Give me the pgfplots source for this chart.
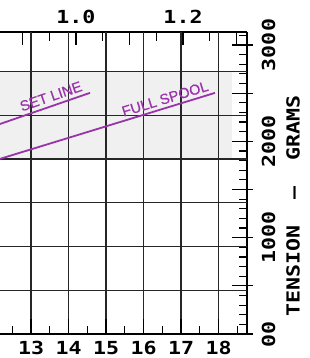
\documentclass[border=0pt]{standalone}
\usepackage{fontspec}
\setmainfont{Liberation Sans}
\newfontfamily\letterfont[FakeStretch=1.2]{DejaVu Sans Mono}
\newfontfamily\markfont[FakeBold=0.6]{Liberation Sans}
\usepackage{pgfplots}
\pgfplotsset{compat=1.18}
\definecolor{pur}{RGB}{153,51,170}
\definecolor{shadegray}{RGB}{240,240,240}
\newcommand\lf{\letterfont\bfseries\fontsize{18}{18}\selectfont}
\begin{document}
\begin{tikzpicture}
% top scale, shading
\begin{axis}[name=B, scale only axis, width=247pt, height=302pt,
  xmin=0.858, xmax=1.3196, ymin=0, ymax=3135,
  axis x line*=top, axis y line=none,
  xtick={0.9,1.0,1.1,1.2,1.3}, xticklabels={,1.0,,1.2,},
  minor xtick={0.95,1.05,1.15,1.25},
  tick align=inside, major tick length=13pt, minor tick length=9pt,
  every tick/.style={black, line width=1.2pt},
  axis line style={line width=1.6pt, black},
  xticklabel style={font=\lf, inner sep=0pt, anchor=south},
  xticklabel shift=8.5pt]
\addplot[fill=shadegray, draw=none] coordinates {(0.858,1816) (1.2916,1816) (1.2916,2724) (0.858,2724)} -- cycle;
\end{axis}
% outward parts of the long tension ticks
\begin{axis}[scale only axis, width=247pt, height=302pt,
  xmin=12.173, xmax=18.76, ymin=0, ymax=3135,
  axis x line=none, axis y line*=right,
  ytick={0,500,1000,1500,2000,2500,3000}, yticklabels={},
  tick align=outside, major tick length=6pt,
  every tick/.style={black, line width=1.2pt},
  axis line style={line width=1.6pt, black}]
\end{axis}
% main axis
\begin{axis}[name=A, scale only axis, width=247pt, height=302pt,
  xmin=12.173, xmax=18.76, ymin=0, ymax=3135,
  axis x line*=bottom, axis y line*=right,
  xtick={13,14,15,16,17,18}, xticklabels={13,14,15,16,17,18},
  minor xtick={12.5,13.5,14.5,15.5,16.5,17.5,18.5},
  ytick={0,500,1000,1500,2000,2500,3000}, yticklabels={00,,1000,,2000,,3000},
  minor ytick={100,200,300,400,600,700,800,900,1100,1200,1300,1400,1600,1700,1800,1900,2100,2200,2300,2400,2600,2700,2800,2900,3100},
  extra y ticks={454,908,1362,1816,2270,2724}, extra y tick labels={},
  extra y tick style={grid=major, major tick length=0pt},
  xmajorgrids, grid style={black!85, line width=1.4pt},
  tick align=inside, major tick length=15pt, minor tick length=8pt,
  every tick/.style={black, line width=1.2pt},
  axis line style={line width=1.6pt, black},
  xticklabel style={font=\lf, inner sep=0pt, anchor=north},
  xticklabel shift=7pt,
  yticklabel style={font=\lf, inner sep=0pt, anchor=north, rotate=90},
  yticklabel shift=14.5pt,
  ylabel={TENSION~~\textendash~~GRAMS},
  every axis y label/.style={at={(axis description cs:1.186,0.424)}, rotate=90, anchor=center, font=\lf}]
\addplot[pur, line width=1.8pt] coordinates {(12.173,2180) (14.573,2503)}
  node[pos=0.6, sloped, above, inner sep=3.5pt, text=pur, font=\markfont\fontsize{14.5}{14.5}\selectfont] {SET LINE};
\addplot[pur, line width=1.8pt] coordinates {(12.173,1818) (17.907,2503)}
  node[pos=0.78, sloped, above, inner sep=3pt, text=pur, font=\markfont\fontsize{14.5}{14.5}\selectfont] {FULL SPOOL};
\end{axis}
\pgfresetboundingbox
\path[use as bounding box] ([yshift=-24pt]A.south west) rectangle ([xshift=62pt,yshift=32pt]A.north east);
\end{tikzpicture}
\end{document}
